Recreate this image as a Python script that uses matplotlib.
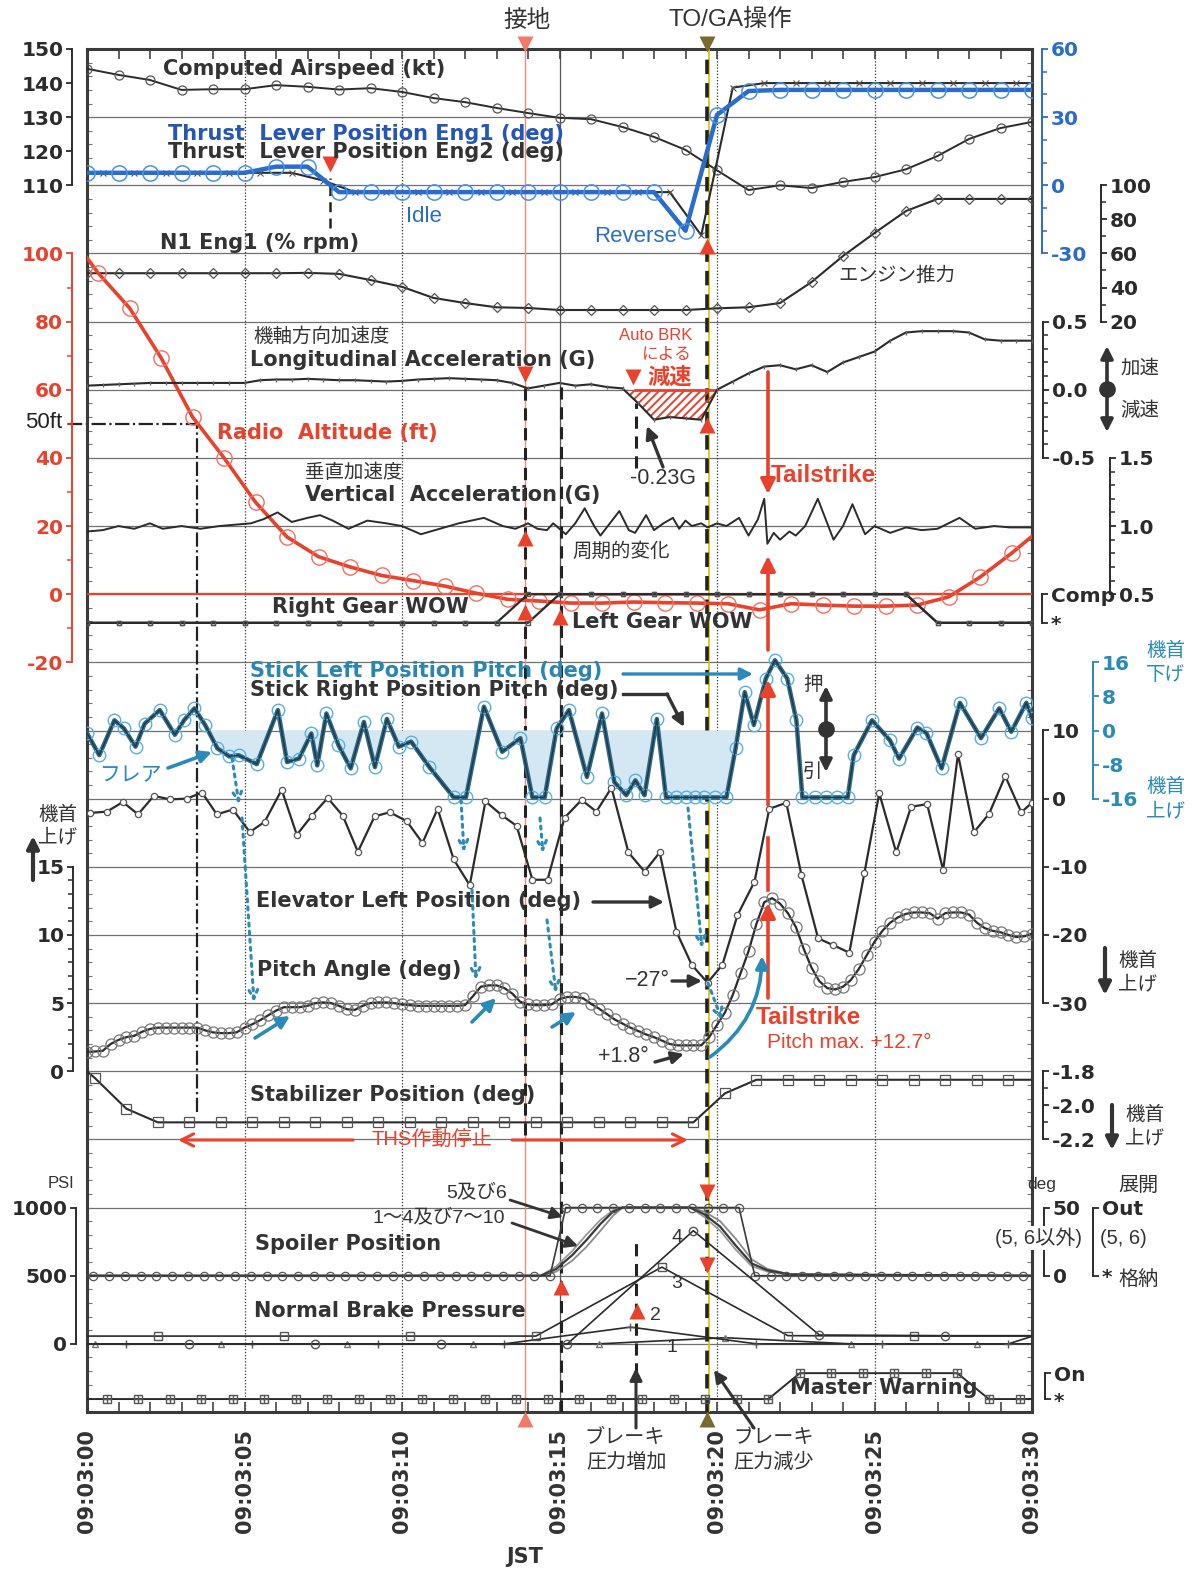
import numpy as np
import matplotlib
matplotlib.use("Agg")
import matplotlib.pyplot as plt

W, H = 1197, 1575
plt.rcParams['font.family'] = ['DejaVu Sans', 'Noto Sans CJK JP']
plt.rcParams['hatch.linewidth'] = 1.4
plt.rcParams['axes.unicode_minus'] = False
JP = ['Noto Sans CJK JP', 'DejaVu Sans']
AR = ['Liberation Sans', 'Noto Sans CJK JP']

# ---------------- data ----------------
time_ticks = [0, 5, 10, 15, 20, 25, 30]
time_labels = ['09:03:00', '09:03:05', '09:03:10', '09:03:15', '09:03:20', '09:03:25', '09:03:30']

t_sec = list(range(31))
airspeed = [144.2, 142.4, 140.9, 138.0, 138.2, 138.2, 139.4, 138.9, 138.1, 138.5, 137.4,
            135.6, 134.4, 132.7, 131.2, 129.8, 129.4, 127.1, 124.2, 120.4, 114.4,
            108.6, 110.0, 109.2, 111.0, 112.4, 114.7, 118.6, 123.6, 126.8, 128.6]
tl_eng1 = [5.5, 5.5, 5.5, 5.5, 5.5, 5.5, 8.2, 8.2, -3, -3, -3, -3, -3, -3, -3, -3, -3, -3, -3,
           -20, 31, 41.5, 42, 42, 42, 42, 42, 42, 42, 42, 42]
t_half = [0] + [0.5 + k for k in range(30)] + [30]
tl_eng2 = [5.5, 5.5, 5.5, 5.5, 5.5, 5.5, 5.5, 5.5, 2.1, -3, -3, -3, -3, -3, -3, -3, -3, -3, -3, -3,
           -22, 43, 45, 45, 45, 45, 45, 45, 45, 45, 45, 45]
n1_eng1 = [48.4, 48.4, 48.4, 48.4, 48.4, 48.4, 48.4, 48.6, 48.0, 44.4, 40.4, 33.9, 30.9, 28.4,
           28.0, 26.8, 26.8, 26.8, 26.8, 26.8, 27.8, 28.4, 30.9, 43.2, 58.5, 72.0, 84.9, 92.0,
           92.0, 92.0, 92.0]

t_ra = [0] + [0.35 + k for k in range(30)] + [30]
radio_alt = [98.7, 94.3, 84.0, 69.4, 52.0, 40.0, 27.0, 16.8, 11.0, 8.0, 5.5, 4.0, 2.4, 0.3, -1.5,
             -2.0, -2.6, -2.6, -2.3, -2.5, -2.6, -2.8, -4.6, -2.8, -3.2, -3.5, -3.5, -3.2, -0.8,
             5.0, 12.0, 17.0]

t_lon = [0.5 * k for k in range(61)]
lon_acc = [0.03, 0.035, 0.04, 0.045, 0.05, 0.05, 0.05, 0.05, 0.05, 0.05,
           0.05, 0.07, 0.075, 0.075, 0.08, 0.075, 0.07, 0.07, 0.065, 0.06,
           0.065, 0.075, 0.08, 0.085, 0.08, 0.075, 0.07, 0.05, 0.01, 0.03,
           0.05, 0.03, 0.04, 0.02, 0.01, -0.1, -0.22, -0.2, -0.21, -0.22,
           0.0, 0.06, 0.12, 0.17, 0.18, 0.15, 0.18, 0.13, 0.2, 0.24,
           0.28, 0.36, 0.42, 0.43, 0.43, 0.43, 0.42, 0.37, 0.36, 0.36, 0.36]

t_vert = [0, 0.5, 1.0, 1.5, 2.0, 2.4, 3.0, 3.6, 4.2, 4.7, 5.2, 5.6, 6.05, 6.5, 7.0, 7.4, 7.8, 8.3,
          8.9, 9.5, 10.0, 10.6, 11.2, 11.8, 12.6, 13.2, 13.6, 14.0, 14.3, 14.6, 14.8, 15.2, 15.5,
          15.8, 16.1, 16.3, 16.6, 16.9, 17.2, 17.4, 17.75, 18.0, 18.3, 18.6, 18.8, 19.0, 19.2,
          19.5, 19.7, 20.0, 20.3, 20.7, 21.0, 21.3, 21.5, 21.6, 21.8, 22.0, 22.3, 22.5, 22.8,
          23.2, 23.7, 24.0, 24.3, 24.7, 25.0, 25.5, 26.0, 26.5, 27.0, 27.7, 28.2, 28.8, 29.3, 30.0]
vert_acc = [0.96, 0.97, 1.0, 0.98, 1.02, 0.98, 1.0, 0.98, 1.0, 1.01, 1.02, 1.05, 1.1, 1.03, 1.06,
            1.08, 1.04, 0.98, 1.04, 1.02, 1.0, 0.94, 0.98, 1.02, 1.06, 1.0, 0.98, 1.02, 0.98,
            0.97, 1.02, 0.94, 1.02, 1.13, 1.0, 0.93, 1.02, 1.11, 0.97, 0.95, 1.08, 0.97, 1.02,
            1.06, 0.98, 1.04, 1.0, 1.02, 0.99, 1.02, 1.0, 1.06, 0.93, 1.05, 1.2, 0.87, 0.95,
            0.9, 0.96, 0.93, 1.0, 1.2, 0.9, 1.0, 1.16, 0.94, 1.0, 0.95, 0.99, 0.97, 0.98, 1.06,
            0.98, 1.0, 0.99, 0.99]

wow_right = [0, 0, 0, 0, 0, 0, 0, 0, 0, 0, 0, 0, 0, 0, 1, 1, 1, 1, 1, 1, 1, 1, 1, 1, 1, 1, 1,
             0, 0, 0, 0]
wow_left = [0, 0, 0, 0, 0, 0, 0, 0, 0, 0, 0, 0, 0, 0, 0, 1, 1, 1, 1, 1, 1, 1, 1, 1, 1, 1, 1,
            0, 0, 0, 0]

t_stick = [0, 0.39, 0.87, 1.17, 1.54, 1.83, 2.31, 2.79, 3.08, 3.41, 3.75, 4.14, 4.52, 4.81, 5.39,
           6.06, 6.35, 6.73, 7.12, 7.31, 7.6, 7.98, 8.37, 8.79, 9.14, 9.52, 9.9, 10.29, 10.87,
           11.64, 12.03, 12.6, 13.18, 13.76, 14.14, 14.53, 14.91, 15.3, 15.87, 16.35, 16.74,
           17.12, 17.41, 17.7, 18.09, 18.38, 18.7, 19.0, 19.3, 19.6, 19.95, 20.3, 20.59, 20.88,
           21.17, 21.55, 21.84, 22.23, 22.52, 22.71, 23.1, 23.45, 23.8, 24.15, 24.34, 24.92,
           25.49, 25.78, 26.36, 26.65, 27.13, 27.71, 28.38, 28.96, 29.34, 29.82, 30]
stick_pitch = [-0.6, -5.8, 2.4, 0.5, -3.8, 1.6, 4.8, -1.0, 2.4, 5.2, 1.3, -4.2, -6.1, -5.8, -7.9,
               4.8, -7.4, -6.6, -0.7, -8.2, 4.0, -3.4, -8.9, 2.0, -8.6, 2.7, -3.8, -2.6, -8.6,
               -15.7, -15.7, 5.6, -5.0, -1.8, -15.7, -15.7, 0.5, 4.8, -10.9, 4.0, -12.1, -15.2,
               -11.7, -15.2, 2.7, -15.7, -15.7, -15.7, -15.7, -15.7, -15.7, -15.7, -4.2, 9.0,
               1.3, 12.2, 16.5, 12.2, 2.4, -15.7, -15.7, -15.7, -15.7, -15.7, -5.8, 2.4, -2.3,
               -6.6, 0.7, -0.6, -8.9, 6.5, -1.8, 5.2, -0.3, 6.5, 2.9]

t_elev = [0.1, 0.63, 1.14, 1.62, 2.12, 2.63, 3.17, 3.65, 4.12, 4.63, 5.17, 5.64, 6.18, 6.66,
          7.14, 7.64, 8.12, 8.6, 9.13, 9.61, 10.15, 10.65, 11.13, 11.64, 12.15, 12.65, 13.16,
          13.64, 14.14, 14.62, 15.16, 15.7, 16.17, 16.65, 17.19, 17.7, 18.18, 18.71, 19.2,
          19.7, 20.17, 20.65, 21.19, 21.66, 22.2, 22.68, 23.21, 23.69, 24.2, 24.68, 25.15,
          25.69, 26.16, 26.67, 27.18, 27.65, 28.16, 28.64, 29.15, 29.66, 30.0]
elevator = [-2.1, -1.9, -0.5, -2.3, 0.4, -0.1, 0.0, 0.9, -2.3, -1.6, -4.9, -3.4, 1.3, -5.3,
            -2.5, 0.1, -2.5, -7.8, -2.6, -2.0, -3.3, -6.5, -1.5, -8.9, -12.7, -0.4, -2.4, -4.0,
            -11.9, -11.9, -2.8, -0.2, -1.9, 1.6, -7.9, -10.7, -7.9, -19.5, -24.4, -27.0, -24.4,
            -17.1, -12.2, -1.5, -0.6, -11.2, -20.5, -21.5, -22.6, -10.9, 0.8, -7.9, -1.2, -0.8,
            -10.5, 6.5, -4.9, -2.2, 3.3, -2.0, -0.6]

t_pitch = [0.25 * k for k in range(121)]
pitch = [1.4, 1.45, 1.5, 2.0, 2.3, 2.5, 2.6, 2.9, 3.1, 3.2,
         3.2, 3.2, 3.2, 3.2, 3.2, 3.0, 2.85, 2.8, 2.8, 2.85,
         3.2, 3.45, 3.75, 4.1, 4.45, 4.7, 4.7, 4.7, 4.8, 5.0,
         5.05, 5.0, 4.8, 4.55, 4.5, 4.8, 5.0, 5.05, 5.05, 5.0,
         4.9, 4.85, 4.8, 4.8, 4.8, 4.8, 4.8, 4.8, 4.85, 5.5,
         6.2, 6.3, 6.3, 6.1, 5.7, 5.1, 4.9, 4.85, 4.85, 4.9,
         5.3, 5.45, 5.45, 5.35, 4.95, 4.6, 4.2, 3.8, 3.5, 3.2,
         2.95, 2.7, 2.5, 2.25, 2.0, 1.9, 1.9, 1.9, 1.9, 2.5,
         3.4, 4.3, 5.6, 7.2, 8.8, 10.8, 12.4, 12.7, 12.3, 11.6,
         10.6, 9.0, 7.6, 6.6, 6.1, 6.0, 6.2, 6.7, 7.5, 8.5,
         9.5, 10.3, 10.9, 11.3, 11.55, 11.65, 11.65, 11.6, 11.2, 11.6,
         11.65, 11.65, 11.5, 10.9, 10.5, 10.3, 10.2, 10.0, 9.85, 9.9,
         10.1]

t_stab = [0] + [0.25 + k for k in range(30)] + [30]
stabilizer = [-1.8, -1.84, -2.02, -2.1, -2.1, -2.1, -2.1, -2.1, -2.1, -2.1, -2.1, -2.1, -2.1,
              -2.1, -2.1, -2.1, -2.1, -2.1, -2.1, -2.1, -2.1, -1.93, -1.85, -1.85, -1.85, -1.85,
              -1.85, -1.85, -1.85, -1.85, -1.85, -1.85]

t_spl = [0] + [0.2 + 0.5 * k for k in range(60)] + [30]
spoiler_56 = [0, 0, 0, 0, 0, 0, 0, 0, 0, 0, 0, 0, 0, 0, 0, 0, 0, 0, 0, 0, 0, 0, 0, 0, 0, 0, 0, 0,
              0, 0, 0, 50, 50, 50, 50, 50, 50, 50, 50, 50, 50, 50, 50, 0, 0, 0, 0, 0, 0, 0, 0, 0,
              0, 0, 0, 0, 0, 0, 0, 0, 0, 0]
t_spl_o = [0, 14.4, 14.9, 15.4, 15.85, 16.3, 16.7, 17.0, 19.15, 19.6, 20.1, 20.6, 21.1, 21.6,
           22.3, 30]
spoiler_a = [0, 0, 5, 15, 26, 38, 47, 50, 50, 45, 36, 22, 9, 4, 1, 0]
spoiler_b = [0, 0, 3, 11, 21, 33, 44, 50, 50, 47, 40, 27, 12, 5, 1, 0]
spoiler_c = [0, 0, 7, 18, 30, 41, 48, 50, 50, 43, 33, 19, 7, 3, 0.5, 0]

t_brk1 = [0] + [0.25 + 4 * k for k in range(8)] + [30]
brake1 = [0, 0, 0, 0, 0, 0, 45, 0, 0, 0]
t_brk2 = [0] + [1.25 + 4 * k for k in range(8)] + [30]
brake2 = [0, 0, 0, 0, 0, 123, 0, 0, 0, 55]
t_brk3 = [0] + [2.25 + 4 * k for k in range(7)] + [30]
brake3 = [57, 57, 57, 57, 57, 563, 60, 57, 57]
t_brk4 = [0] + [3.25 + 4 * k for k in range(7)] + [30]
brake4 = [0, 0, 0, 0, 0, 830, 65, 60, 60]

t_mw = [0] + [0.63 + k for k in range(30)] + [30]
master_warning = [0, 0, 0, 0, 0, 0, 0, 0, 0, 0, 0, 0, 0, 0, 0, 0, 0, 0, 0, 0, 0, 0, 0,
                  1, 1, 1, 1, 1, 1, 0, 0, 0]

# event times (s after 09:03:00)
t_touch, t_left, t_brake, t_toga, t_tail, t_idle, t_50ft = 13.9, 15.05, 17.43, 19.68, 21.62, 7.71, 3.49

# ---------------- figure ----------------
fig = plt.figure(figsize=(W / 100, H / 100), dpi=100)
fig.patch.set_facecolor('white')
L, R, T, B = 87, 1032, 49, 1412
ax = fig.add_axes([L / W, 1 - B / H, (R - L) / W, (B - T) / H])
ax.set_xlim(0, 30)
ax.set_ylim(0, 20)
for g in range(1, 20):
    ax.axhline(g, color='#707070', lw=0.9, zorder=0)
for tt in [5, 10, 20, 25]:
    ax.axvline(tt, color='#333333', lw=0.9, ls=(0, (1, 1.5)), zorder=0)
ax.axvline(15, color='#555555', lw=0.9, zorder=0)

PT = 72 / 100
BLACK = '#2b2b2b'
BLUE = '#2a6ccc'
RED = '#e8412c'
TEAL = '#2a8ab8'


def scale(va, ga, vb, gb):
    a = ax.twinx()
    k = (gb - ga) / (vb - va)
    a.set_ylim(va - ga / k, va + (20 - ga) / k)
    for s in a.spines.values():
        s.set_visible(False)
    a.tick_params(axis='y', which='both', left=False, right=False, labelleft=False, labelright=False)
    return a


def yaxis(a, side, out, lo, hi, ticks, labels, color=BLACK, minor=None, fs=14.5, tlen=6, pad=2):
    sp = a.spines[side]
    sp.set_visible(True)
    sp.set_position(('outward', out * PT))
    sp.set_bounds(lo, hi)
    sp.set_color(color)
    sp.set_linewidth(1.4)
    a.set_yticks(ticks, labels=labels, fontsize=fs, fontweight='bold')
    if minor is not None:
        a.set_yticks(minor, minor=True)
    left = side == 'left'
    a.tick_params(axis='y', which='major', left=left, right=not left, labelleft=left,
                  labelright=not left, direction='out', length=tlen * PT, width=1.3,
                  colors=color, pad=pad)
    a.tick_params(axis='y', which='minor', left=left, right=not left, direction='out',
                  length=tlen * PT * 0.8, width=1.1, color=color)


# Computed airspeed
a_as = scale(110, 18, 150, 20)
yaxis(a_as, 'left', 15, 110, 150, [110, 120, 130, 140, 150], ['110', '120', '130', '140', '150'])
a_as.plot(t_sec, airspeed, color=BLACK, lw=1.4, marker='o', ms=6.5, mfc='none', mec='#555', mew=0.9)

# Thrust levers
a_tl = scale(0, 18, 30, 19)
yaxis(a_tl, 'right', 10, -30, 60, [-30, 0, 30, 60], ['-30', '0', '30', '60'], color=BLUE,
      minor=[-20, -10, 10, 20, 40, 50])
a_tl.plot(t_half, tl_eng2, color=BLACK, lw=1.5, marker='x', ms=4, mew=0.8, mec='#555',
          markevery=slice(1, -1))
a_tl.plot(t_sec, tl_eng1, color=BLUE, lw=3.2, marker='o', ms=11, mfc='none', mec='#4a90e8', mew=1.1)

# N1
a_n1 = scale(20, 16, 100, 18)
yaxis(a_n1, 'right', 69, 20, 100, [20, 40, 60, 80, 100], ['20', '40', '60', '80', '100'],
      minor=[30, 50, 70, 90])
a_n1.plot(t_sec, n1_eng1, color=BLACK, lw=1.5, marker='D', ms=5, mfc='none', mec='#555', mew=0.9)

# Radio altitude
a_ra = scale(0, 12, 100, 17)
yaxis(a_ra, 'left', 15, -20, 100, [-20, 0, 20, 40, 60, 80, 100],
      ['-20', '0', '20', '40', '60', '80', '100'], color=RED, minor=[-10, 10, 30, 50, 70, 90])
a_ra.axhline(0, color=RED, lw=1.6, zorder=1)
a_ra.plot(t_ra, radio_alt, color=RED, lw=2.6, marker='o', ms=11, mfc='none', mec='#f07060',
          mew=1.0, markevery=slice(1, -1), zorder=3)

# Longitudinal acceleration
a_lon = scale(0, 15, 0.5, 16)
yaxis(a_lon, 'right', 11, -0.5, 0.5, [-0.5, 0.0, 0.5], ['-0.5', '0.0', '0.5'],
      minor=[-0.4, -0.3, -0.2, -0.1, 0.1, 0.2, 0.3, 0.4])
tl_arr = np.array(t_lon)
la_arr = np.array(lon_acc)
a_lon.fill_between(tl_arr, la_arr, 0, where=(tl_arr >= 17.0) & (tl_arr <= 20.0), interpolate=True,
                   facecolor='none', edgecolor=RED, hatch='////', lw=0)
a_lon.hlines(0, t_brake - 0.05, t_toga + 0.3, color=RED, lw=2)
a_lon.plot(t_lon, lon_acc, color=BLACK, lw=1.5, marker='|', ms=3, mec='#666')

# Vertical acceleration
a_va = scale(1.0, 13, 1.5, 14)
yaxis(a_va, 'right', 78, 0.5, 1.5, [0.5, 1.0, 1.5], ['0.5', '1.0', '1.5'],
      minor=[0.6, 0.7, 0.8, 0.9, 1.1, 1.2, 1.3, 1.4])
a_va.plot(t_vert, vert_acc, color=BLACK, lw=1.4)

# Gear WOW
a_wow = scale(0, 11.58, 1, 12.0)
yaxis(a_wow, 'right', 10, 0, 1, [0, 1], ['*', 'Comp'])
a_wow.plot(t_sec, wow_right, color=BLACK, lw=1.6, marker='s', ms=3, mfc='none', mec='#555')
a_wow.plot(t_sec, wow_left, color=BLACK, lw=1.6, marker='s', ms=3, mfc='none', mec='#555')

# Side stick
a_st = scale(0, 10, 16, 11)
yaxis(a_st, 'right', 61, -16, 16, [-16, -8, 0, 8, 16], ['-16', '-8', '0', '8', '16'], color=TEAL)
ts_arr = np.array(t_stick)
sp_arr = np.array(stick_pitch)
a_st.fill_between(ts_arr, sp_arr, 0, where=(sp_arr <= 0) & (ts_arr > 3.7) & (ts_arr < 20.8),
                  interpolate=True, color='#d4e8f4', lw=0, zorder=1)
a_st.plot(t_stick, stick_pitch, color='#2f6784', lw=3.2, marker='o', ms=9, mfc='none',
          mec='#58b0e0', mew=1.0, zorder=3)
a_st.plot(t_stick, stick_pitch, color='#1e3a4a', lw=1.0, zorder=4)

# Elevator
a_el = scale(0, 9, 10, 10)
yaxis(a_el, 'right', 11, -30, 10, [-30, -20, -10, 0, 10], ['-30', '-20', '-10', '0', '10'])
a_el.plot(t_elev, elevator, color=BLACK, lw=1.6, marker='o', ms=4.5, mfc='white', mec='#555', mew=0.9)

# Pitch angle
a_pi = scale(0, 5, 5, 6)
yaxis(a_pi, 'left', 14, 0, 15, [0, 5, 10, 15], ['0', '5', '10', '15'],
      minor=[1, 2, 3, 4, 6, 7, 8, 9, 11, 12, 13, 14])
a_pi.plot(t_pitch, pitch, color=BLACK, lw=1.6, marker='o', ms=8, mfc='none', mec='#777', mew=0.9)

# Stabilizer
a_sb = scale(-2.2, 4, -1.8, 5)
yaxis(a_sb, 'right', 11, -2.2, -1.8, [-2.2, -2.0, -1.8], ['-2.2', '-2.0', '-1.8'], minor=[-2.1, -1.9])
a_sb.plot(t_stab, stabilizer, color=BLACK, lw=1.5, marker='s', ms=6.5, mfc='none', mec='#555',
          mew=0.9, markevery=slice(1, -1))

# Spoilers
a_sp = scale(0, 2, 50, 3)
yaxis(a_sp, 'right', 12, 0, 50, [0, 50], ['0', '50'])
a_sp2 = scale(0, 2, 50, 3)
yaxis(a_sp2, 'right', 61, 0, 50, [0, 50], ['*', 'Out'])
a_sp.plot(t_spl_o, spoiler_b, color='#8a8a8a', lw=1.3)
a_sp.plot(t_spl_o, spoiler_c, color='#9a9a9a', lw=1.3)
a_sp.plot(t_spl_o, spoiler_a, color='#3a3a3a', lw=1.6)
a_sp.plot(t_spl, spoiler_56, color='#3a3a3a', lw=1.2, marker='o', ms=6, mfc='none', mec='#555',
          mew=0.9, markevery=slice(1, -1))

# Brake pressure
a_br = scale(0, 1, 500, 2)
yaxis(a_br, 'left', 11, 0, 1000, [0, 500, 1000], ['0', '500', '1000'])
a_br.plot(t_brk1, brake1, color=BLACK, lw=1.2, marker='^', ms=5, mfc='none', mec='#777', markevery=slice(1, -1))
a_br.plot(t_brk2, brake2, color=BLACK, lw=1.2, marker='+', ms=6, mec='#555', markevery=slice(1, -1))
a_br.plot(t_brk3, brake3, color=BLACK, lw=1.2, marker='s', ms=6, mfc='none', mec='#555', markevery=slice(1, -1))
a_br.plot(t_brk4, brake4, color=BLACK, lw=1.2, marker='o', ms=6, mfc='none', mec='#555', markevery=slice(1, -1))

# Master warning
a_mw = scale(0, 0.19, 1, 0.57)
yaxis(a_mw, 'right', 13, 0, 1, [0, 1], ['*', 'On'])
a_mw.plot(t_mw, master_warning, color=BLACK, lw=1.4, marker='s', ms=6, mfc='none', mec='#555',
          markevery=slice(1, -1))
a_mw.plot(t_mw[1:-1], master_warning[1:-1], lw=0, marker='+', ms=6, mec='#555')

# ---- event lines (main axes, grid units) ----
ax.axvline(t_touch, color='#f08a7a', lw=1.0, zorder=0.5)
ax.vlines(t_touch, 4.06, 15.15, colors='#222', lw=2.2, linestyles=(0, (4, 2.5)), zorder=5)
ax.vlines(t_left, 0, 15.07, colors='#222', lw=2.2, linestyles=(0, (4, 2.5)), zorder=5)
ax.vlines(t_brake, 13.85, 14.8, colors='#222', lw=2.2, linestyles=(0, (4, 2.5)), zorder=5)
ax.vlines(t_brake, 0.54, 2.55, colors='#222', lw=2.2, linestyles=(0, (4, 2.5)), zorder=5)
ax.vlines(t_idle, 17.37, 18.11, colors='#222', lw=1.8, linestyles=(0, (4, 2.5)), zorder=5)
ax.axvline(t_toga + 0.07, color='#d8c400', lw=1.2, zorder=5)
ax.vlines(t_toga, 0, 20, colors='#222', lw=2.6, linestyles=(0, (4, 2.5)), zorder=5)
ax.hlines(14.5, -0.6, t_50ft, colors='#222', lw=1.6, linestyles='dashdot', clip_on=False)
ax.vlines(t_50ft, 4.4, 14.5, colors='#222', lw=1.6, linestyles='dashdot')

# main axes ticks / frame
ax.set_yticks([])
ax.set_yticks(np.arange(0, 20.01, 0.2), minor=True)
ax.tick_params(axis='y', which='minor', direction='in', length=3.5, left=True, right=True,
               color='#777', width=0.8)
ax.set_xticks(range(31), minor=True)
ax.set_xticks(time_ticks, labels=time_labels, rotation=90, fontsize=15, fontweight='bold', color='#333')
ax.tick_params(axis='x', which='both', direction='in', top=True, bottom=True, length=7,
               width=1.2, pad=12, color='#444')
for s in ax.spines.values():
    s.set_linewidth(2.2)
    s.set_color('#3a3a3a')

# ---------------- annotations overlay (pixel coordinates) ----------------
ov = fig.add_axes([0, 0, 1, 1], facecolor='none')
ov.set_xlim(0, W)
ov.set_ylim(H, 0)
ov.axis('off')


def tx(x, y, s, **kw):
    kw.setdefault('va', 'center')
    kw.setdefault('ha', 'left')
    ov.text(x, y, s, **kw)


def lab(x, y, s, color='#333', fs=15):
    tx(x, y, s, color=color, fontsize=fs, fontweight='bold', family=['DejaVu Sans'])


def jp(x, y, s, color='#333', fs=14, **kw):
    tx(x, y, s, color=color, fontsize=fs, family=JP, **kw)


def ar(x, y, s, color='#333', fs=15, **kw):
    tx(x, y, s, color=color, fontsize=fs, family=AR, **kw)


def arrow(x0, y0, x1, y1, color='#333', lw=2.2, ms=18, style='-|>', ls='-'):
    ov.annotate('', xy=(x1, y1), xytext=(x0, y0),
                arrowprops=dict(arrowstyle=style, color=color, lw=lw, mutation_scale=ms,
                                shrinkA=0, shrinkB=0, linestyle=ls))


def tri(x, y, m, color=RED, ms=11):
    ov.plot([x], [y], marker=m, color=color, ms=ms, mec='none', ls='none')


lab(163, 69, 'Computed Airspeed (kt)')
lab(168, 134, 'Thrust  Lever Position Eng1 (deg)', color='#2456b8')
lab(168, 152, 'Thrust  Lever Position Eng2 (deg)')
ar(406, 216, 'Idle', color=BLUE, fs=16)
ar(594, 237, 'Reverse', color=BLUE, fs=16)
lab(160, 243, 'N1 Eng1 (% rpm)')
jp(838, 275, 'エンジン推力')
jp(253, 336, '機軸方向加速度')
lab(250, 360, 'Longitudinal Acceleration (G)')
ar(692, 336, 'Auto BRK', color=RED, fs=12, ha='right')
jp(692, 355, 'による', color=RED, fs=12, ha='right')
jp(692, 377, '減速', color=RED, fs=16, ha='right', fontweight='bold')
ar(62, 423, '50ft', color='#222', fs=16, ha='right')
lab(217, 433, 'Radio  Altitude (ft)', color=RED)
jp(305, 472, '垂直加速度')
lab(305, 495, 'Vertical  Acceleration (G)')
ar(630, 478, '-0.23G', fs=15.5)
jp(572, 551, '周期的変化')
ar(771, 476, 'Tailstrike', color=RED, fs=17.5, fontweight='bold')
lab(272, 607, 'Right Gear WOW')
lab(572, 622, 'Left Gear WOW')
lab(250, 671, 'Stick Left Position Pitch (deg)', color='#2a86b0')
lab(250, 690, 'Stick Right Position Pitch (deg)')
jp(803, 685, '押')
jp(803, 771, '引')
jp(100, 775, 'フレア', color='#2a86c0', fs=15)
jp(38, 814, '機首')
jp(38, 837, '上げ')
lab(256, 901, 'Elevator Left Position (deg)')
lab(257, 970, 'Pitch Angle (deg)')
ar(625, 980, '−27°', fs=15.5)
ar(598, 1057, '+1.8°', fs=15.5)
ar(756, 1018, 'Tailstrike', color=RED, fs=17.5, fontweight='bold')
ar(767, 1042, 'Pitch max. +12.7°', color=RED, fs=15)
lab(250, 1095, 'Stabilizer Position (deg)')
ar(372, 1140, 'THS作動停止', color=RED, fs=14.5)
ar(48, 1183, 'PSI', fs=12)
ar(446, 1192, '5及び6', fs=14)
ar(372, 1217, '1～4及び7～10', fs=14)
lab(255, 1244, 'Spoiler Position')
lab(254, 1311, 'Normal Brake Pressure')
ar(671, 1238, '4', fs=14)
ar(671, 1283, '3', fs=14)
ar(650, 1315, '2', fs=14)
ar(667, 1347, '1', fs=14)
jp(584, 1438, 'ブレーキ', fs=14.5)
jp(586, 1462, '圧力増加', fs=14.5)
jp(733, 1438, 'ブレーキ', fs=14.5)
jp(733, 1462, '圧力減少', fs=14.5)
lab(790, 1388, 'Master Warning')
tx(525, 1557, 'JST', fontsize=15, fontweight='bold', color='#333', ha='center', family=['DejaVu Sans'])
ar(1042, 1185, 'deg', fs=12.5, ha='center')
jp(1118, 1185, '展開', fs=14.5)
ar(995, 1238, '(5, 6以外)', fs=14.5, bbox=dict(facecolor='white', edgecolor='none', pad=1))
ar(1100, 1238, '(5, 6)', fs=14.5)
jp(1118, 1280, '格納', fs=14.5)
jp(1120, 368, '加速')
jp(1120, 410, '減速')
jp(1146, 651, '機首', color=TEAL)
jp(1146, 675, '下げ', color=TEAL)
jp(1146, 787, '機首', color=TEAL)
jp(1146, 811, '上げ', color=TEAL)
jp(1118, 960, '機首')
jp(1118, 984, '上げ')
jp(1125, 1115, '機首')
jp(1125, 1138, '上げ')
jp(527, 20, '接地', fs=17, ha='center')
ar(730, 20, 'TO/GA操作', fs=17.5, ha='center')

# top/bottom event markers
tri(525, 44, 'v', color='#f07a68', ms=11)
tri(707, 44, 'v', color='#7a6a30', ms=11)
tri(525, 1419, '^', color='#f07a68', ms=11)
tri(707, 1419, '^', color='#7a6a30', ms=11)

# red triangle markers
for (x, y, m) in [(330, 164, 'v'), (707, 246, '^'), (525, 374, 'v'), (633, 377, 'v'), (707, 425, '^'),
                  (525, 538, '^'), (525, 612, '^'), (560, 617, '^'), (707, 1192, 'v'),
                  (707, 1265, 'v'), (561, 1287, '^'), (637, 1311, '^')]:
    tri(x, y, m, ms=12)

# tailstrike red arrows
arrow(768, 372, 768, 494, color=RED, lw=2.6, ms=22)
arrow(768, 650, 768, 556, color=RED, lw=2.6, ms=22)
arrow(768, 805, 768, 680, color=RED, lw=2.6, ms=22)
ov.plot([768, 768], [838, 890], color=RED, lw=2.6)
arrow(768, 998, 768, 903, color=RED, lw=2.6, ms=22)

# black arrows
arrow(663, 467, 647, 426, lw=2.4)
arrow(593, 902, 664, 902, lw=2.4)
arrow(672, 981, 702, 981, lw=2.4)
arrow(655, 1062, 684, 1054, lw=2.4)
ov.plot([623, 667], [694, 694], color='#333', lw=2.4)
arrow(667, 694, 684, 727, lw=2.4)
arrow(510, 1200, 563, 1217, lw=2.0)
arrow(512, 1223, 578, 1246, lw=2.0)
arrow(636, 1428, 636, 1368, lw=2.2)
arrow(754, 1428, 714, 1370, lw=2.2)
arrow(33, 880, 33, 836, lw=3, ms=18)
arrow(1105, 948, 1105, 995, lw=3, ms=18)
arrow(1112, 1105, 1112, 1150, lw=3, ms=18)
# push/pull and accel indicators
arrow(826, 729, 826, 686, lw=2.6, ms=18)
arrow(826, 729, 826, 772, lw=2.6, ms=18)
ov.plot([826], [729], marker='o', color='#333', ms=11)
arrow(1107, 389, 1107, 346, lw=2.6, ms=18)
arrow(1107, 389, 1107, 432, lw=2.6, ms=18)
ov.plot([1107], [389], marker='o', color='#333', ms=11)

# teal arrows
arrow(623, 674, 753, 674, color=TEAL, lw=2.4)
arrow(168, 768, 212, 752, color=TEAL, lw=2.6)
arrow(255, 1038, 290, 1016, color=TEAL, lw=2.6)
arrow(472, 1022, 496, 998, color=TEAL, lw=2.6)
arrow(552, 1027, 576, 1012, color=TEAL, lw=2.6)
ov.annotate('', xy=(762, 956), xytext=(710, 1057),
            arrowprops=dict(arrowstyle='-|>', color=TEAL, lw=2.6, mutation_scale=18,
                            shrinkA=0, shrinkB=0, connectionstyle='arc3,rad=0.25'))
for (x0, y0, x1, y1) in [(232, 758, 239, 804), (242, 818, 254, 1002), (461, 800, 464, 852),
                         (472, 890, 476, 980), (540, 818, 543, 853), (547, 920, 556, 993),
                         (688, 808, 702, 948), (708, 983, 722, 1020)]:
    arrow(x0, y0, x1, y1, color=TEAL, lw=2.2, style='->', ls=':', ms=16)

# THS arrows
arrow(353, 1140, 178, 1140, color=RED, lw=2.2, style='->', ms=22)
arrow(512, 1140, 688, 1140, color=RED, lw=2.2, style='->', ms=22)

fig.savefig('out.png', dpi=100)
